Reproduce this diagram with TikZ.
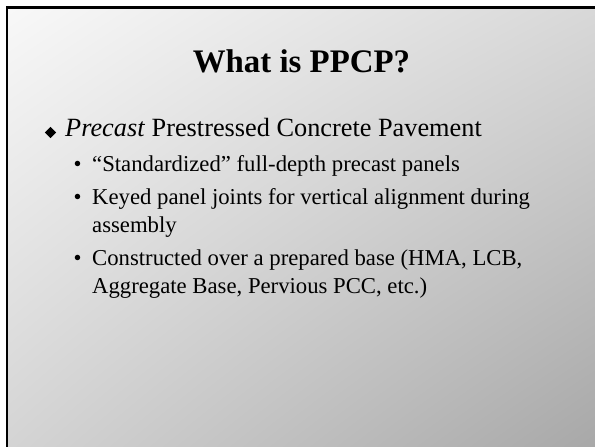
\documentclass[tikz,border=0pt]{standalone}
\usepackage{fontspec}
\setmainfont{Liberation Serif}
\usetikzlibrary{positioning,shapes.geometric,shadings}
\definecolor{slideTL}{HTML}{F8F8F8}
\definecolor{slideTR}{HTML}{D8D8D8}
\definecolor{slideBL}{HTML}{D4D4D4}
\definecolor{slideBR}{HTML}{A8A8A8}
\definecolor{ink}{HTML}{000000}

\begin{document}
\begin{tikzpicture}[x=1bp, y=-1bp, text=ink,
    title/.style={font=\fontsize{33}{40}\selectfont\bfseries, anchor=base},
    lvlone/.style={font=\fontsize{26.4}{32}\selectfont, anchor=base west, inner sep=0pt},
    lvltwo/.style={font=\fontsize{22.8}{27.7}\selectfont, anchor=base west, inner sep=0pt, text width=480bp, align=flush left},
    dot/.style={font=\fontsize{22.8}{27.7}\selectfont, anchor=base, inner sep=0pt},
    gem/.style={diamond, fill=ink, inner sep=0pt, minimum width=11.5bp, minimum height=11.5bp}]
  % page (fixed size)
  \useasboundingbox (0,0) rectangle (595,447);
  \fill[white] (0,0) rectangle (595,447);

  % ---------------- background and frame
  \shade[upper left=slideTL, upper right=slideTR, lower left=slideBL, lower right=slideBR] (8,9) rectangle (595,447);
  \draw[ink, line width=2.6bp] (7,447) -- (7,7.6) -- (595,7.6);

  % ---------------- title
  \node[title] (ttl) at (301.5,73) {What is PPCP?};

  % ---------------- first level
  \node[gem] (b0) at (50.5,132.5) {};
  \node[lvlone] (pcp) at (65,137) {\textit{Precast} Prestressed Concrete Pavement};

  % ---------------- second level
  \foreach \name/\y/\lab in {std/172/{``Standardized'' full-depth precast panels},
                             key/205/{Keyed panel joints for vertical alignment during\\assembly},
                             base/266/{Constructed over a prepared base (HMA, LCB,\\Aggregate Base, Pervious PCC, etc.)}} {
    \node[dot] (d\name) at (77.5,\y) {•};
    \node[lvltwo] (\name) at (92,\y) {\lab};
  }
\end{tikzpicture}
\end{document}
